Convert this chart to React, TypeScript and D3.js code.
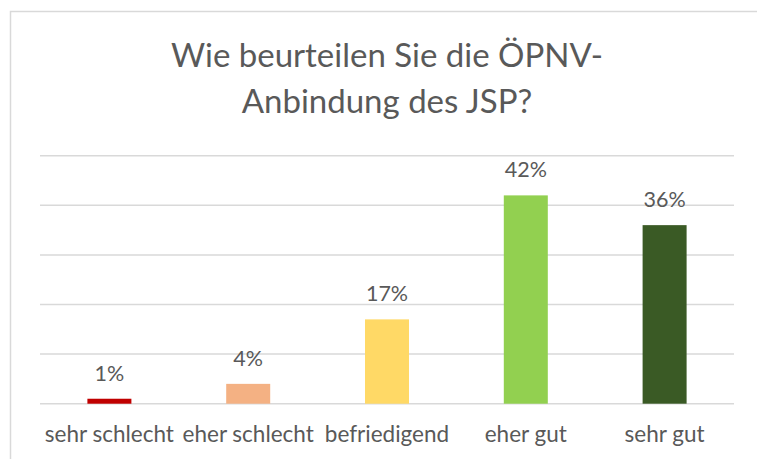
import React from "react";
import * as d3 from "d3";

const categories = ["sehr schlecht", "eher schlecht", "befriedigend", "eher gut", "sehr gut"];
const values = [1, 4, 17, 42, 36];
const colors = ["#C00000", "#F4B183", "#FFD966", "#92D050", "#3A5A25"];
const yTicks = [0, 10, 20, 30, 40, 50];
const titleLines = ["Wie beurteilen Sie die ÖPNV-", "Anbindung des JSP?"];

const W = 757;
const H = 459;
const FONT = "Lato, 'Open Sans', sans-serif";
const TEXT = "#595959";

export default function App() {
  const left = 40, right = 734, top = 155.7, bottom = 403.7;
  const x = d3.scaleBand<string>().domain(categories).range([left, right]).paddingInner(0.683).paddingOuter(0.3415);
  const y = d3.scaleLinear().domain([0, 50]).range([bottom, top]);
  const cx = (left + right) / 2;
  return (
    <svg width={W} height={H} style={{ position: "absolute", left: 0, top: 0, background: "#fff" }}>
      <rect x={10.5} y={11.5} width={900} height={600} fill="#fff" stroke="#d9d9d9" strokeWidth={1.5} />
      {titleLines.map((t, i) => (
        <text key={i} x={cx} y={67 + i * 45.5} textAnchor="middle" fontFamily={FONT} fontSize={33} fill={TEXT}>
          {t}
        </text>
      ))}
      {yTicks.map((t) => (
        <line key={t} x1={left} x2={right} y1={y(t)} y2={y(t)} stroke="#d9d9d9" strokeWidth={1.5} />
      ))}
      {categories.map((c, i) => (
        <g key={c}>
          <rect x={x(c)} y={y(values[i])} width={x.bandwidth()} height={bottom - y(values[i])} fill={colors[i]} />
          <text x={x(c)! + x.bandwidth() / 2} y={y(values[i]) - 18} textAnchor="middle" fontFamily={FONT} fontSize={21.5} fill={TEXT}>
            {values[i] + "%"}
          </text>
          <text x={x(c)! + x.bandwidth() / 2} y={441.7} textAnchor="middle" fontFamily={FONT} fontSize={22.5} fill={TEXT}>
            {c}
          </text>
        </g>
      ))}
    </svg>
  );
}
